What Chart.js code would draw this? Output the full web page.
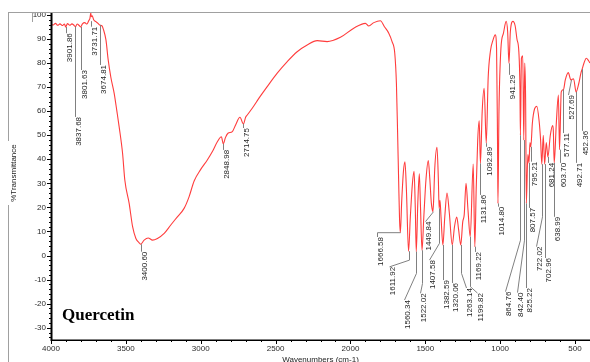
<!DOCTYPE html>
<html><head><meta charset="utf-8">
<script src="https://cdn.jsdelivr.net/npm/chart.js@4.4.1/dist/chart.umd.min.js"></script>
<style>html,body{margin:0;padding:0;background:#fff;overflow:hidden}canvas{display:block}</style>
</head><body><canvas id="c" width="590" height="362"></canvas>
<script>
// ---- spectrum data (wavenumber cm-1, %T) ----
const wavenumbers = [4000,3985,3970,3955,3940,3925,3910,3901.86,3890,3875,3860,3848,3837.68,3825,3812,3801.63,3790,3775,3760,3748,3740,3734,3731.71,3725,3715,3700,3688,3674.81,3660,3650,3633,3618,3600,3578,3560,3545,3522,3507,3478,3455,3433,3411,3400.6,3378,3351,3322,3289,3244,3200,3156,3111,3078,3044,3000,2956,2922,2889,2862,2848.98,2835,2818,2789,2767,2738,2714.75,2700,2689,2656,2611,2556,2489,2422,2356,2289,2222,2156,2067,1978,1900,1878,1844,1800,1773,1744,1722,1704,1693,1685,1678,1672,1666.58,1658,1646,1636,1626,1611.92,1600,1586,1575,1567,1560.34,1550,1540,1532,1522.02,1510,1495,1480,1470,1460,1455,1449.84,1445,1437,1422,1413,1407.58,1402,1395,1382.59,1370,1355,1340,1320.06,1305,1290,1278,1263.14,1250,1240,1228,1215,1199.82,1180,1169.22,1160,1150,1140,1131.86,1120,1107,1092.89,1080,1065,1048,1033,1024,1018,1014.8,1008,995,978,960,950,941.29,932,915,900,888,875,868,864.76,858,849,842.4,836,830,825.22,815,807.57,801,795.21,785,770,755,740,730,722.02,712,702.96,692,681.24,665,650,645,638.99,625,611,603.7,592,577.11,565,545,527.69,510,492.71,475,460,452.36,440,425,410,400];
const transmittance = [96.2,95.8,96.5,95.7,96.3,95.6,96.2,95.0,96.4,95.7,96.3,95.8,95.1,96.2,95.6,95.0,96.3,96.8,96.2,97.6,98.6,100.8,99.3,99.6,98.0,97.2,96.6,95.8,95.5,94,89.6,81.3,74,67.4,60,53.6,42.5,31.4,21.7,12.0,7.1,5.3,4.7,6.4,7.3,6.4,7.1,9.2,12.7,16.1,19.6,24.4,31,35.8,39.7,43.2,47.3,49.4,46.4,49,50.8,51.5,54.3,57.5,54.7,57.5,58.4,61.2,65.4,70.2,75.8,80.6,84.7,87.5,89.3,88.9,90.7,94.5,96.5,95.4,96.8,97.6,95.1,92.4,88.9,84.1,71.6,50.9,31,15,9.5,22,35,39,27,1.8,16,30,35,20,1.6,22,34,20,2.2,16,32,39.5,32,22,19.5,18.2,22,36,45,32,19.6,23,16,4.4,16,26,18,4.4,12,16,11,4.4,14,17,30,19,7.8,38,3.7,28,48,56,38.3,60,69.5,46.7,74,85,89.5,91.7,86,50,21.7,60,86,92.4,97.3,93,79.9,93,97.3,95.5,90,84.5,70,50,82,83,48,80,65,21.7,42,38.5,47,45.2,55,61,62,56,48,38,50,38,47,41,50,54,52,38.5,55,66.7,44,68,69,73,76,73,73.5,68,71.5,76,77.5,80,82,81,80];

// ---- axis ticks ----
const xTickValues = [4000,3500,3000,2500,2000,1500,1000,500];
const yTickValues = [100,90,80,70,60,50,40,30,20,10,0,-10,-20,-30];

// ---- peak labels and %T at each marked minimum ----
const peakLabels = ['3901.86','3837.68','3801.63','3731.71','3674.81','3400.60','2848.98','2714.75','1666.58','1611.92','1560.34','1522.02','1449.84','1407.58','1382.59','1320.06','1263.14','1199.82','1169.22','1131.86','1092.89','1014.80','941.29','864.76','842.40','825.22','807.57','795.21','722.02','702.96','681.24','638.99','603.70','577.11','527.69','492.71','452.36'];
const peakDepth = [95.0,95.1,95.0,97.4,95.8,4.7,46.4,54.7,9.5,1.8,1.6,2.2,18.2,19.6,4.4,4.4,4.4,7.8,3.7,38.3,46.7,21.7,79.9,50,48,21.7,38.5,45.2,38,38,41,38.5,44,69,73,68,77.5];

// ---- leader line layout (in axis units): bend points, last = label anchor ----
const leaderLayout = [
  [[3901.86,92.4]],[[3837.68,57.6]],[[3801.63,77.1]],[[3731.71,95.1]],[[3674.81,79.2]],
  [[3400.60,1.6]],[[2848.98,43.9]],[[2714.75,53]],
  [[1820,9.5],[1820,7.7]],
  [[1611.92,-1.9],[1745,-4.7]],
  [[1560.34,-7.4],[1641,-18.5]],
  [[1522.02,-11.6],[1535,-15.7]],
  [[1501,14.1]],
  [[1407.58,5.1],[1475,-1.9]],
  [[1382.59,-10.2]],
  [[1320.06,-11.4]],
  [[1263.14,-7.4],[1225,-13.5]],
  [[1199.82,-13],[1152,-15.6]],
  [[1169.22,1.5]],
  [[1131.86,25.2]],
  [[1092.89,45.2]],
  [[1014.80,20.3]],
  [[941.29,75.1]],
  [[864.76,6.4],[966,-15]],
  [[842.40,6.4],[885,-15.4]],
  [[825.22,-13.5]],
  [[807.57,19.8]],
  [[795.21,39]],
  [[722.02,16.1],[759,3.7]],
  [[702.96,-1]],
  [[681.24,38.5]],
  [[638.99,16.1]],
  [[603.70,38.5]],
  [[577.11,50.9]],
  [[545,66.7]],
  [[492.71,38.5]],
  [[452.36,51.8]]
];

const FONT = '"Liberation Sans", Arial, sans-serif';

const overlay = {
  id: 'overlay',
  afterDatasetsDraw(chart) {
    const {ctx, scales: {x, y}} = chart;
    ctx.save();
    ctx.strokeStyle = '#808080';
    ctx.lineWidth = 1;
    ctx.fillStyle = '#1e1e1e';
    ctx.font = '8px ' + FONT;
    peakLabels.forEach((lab, i) => {
      const wn = parseFloat(lab);
      const pts = [[wn, peakDepth[i]], ...leaderLayout[i]];
      ctx.beginPath();
      pts.forEach((p, j) => {
        const px = Math.round(x.getPixelForValue(p[0])) + 0.5;
        const py = y.getPixelForValue(p[1]);
        if (j) ctx.lineTo(px, py); else ctx.moveTo(px, py);
      });
      ctx.stroke();
      const end = pts[pts.length - 1];
      ctx.save();
      ctx.translate(Math.round(x.getPixelForValue(end[0])), y.getPixelForValue(end[1]));
      ctx.rotate(-Math.PI / 2);
      ctx.textAlign = 'right';
      ctx.textBaseline = 'top';
      ctx.fillText(lab, 0, 0);
      ctx.restore();
    });
    ctx.restore();
  },
  afterDraw(chart) {
    const {ctx, chartArea: a, scales: {x, y}} = chart;
    ctx.save();
    // outer gray frame
    ctx.strokeStyle = '#a0a0a0';
    ctx.lineWidth = 1;
    ctx.beginPath();
    ctx.moveTo(8, 12.5); ctx.lineTo(590, 12.5);
    ctx.moveTo(8.5, 12); ctx.lineTo(8.5, 141);
    ctx.moveTo(8.5, 205); ctx.lineTo(8.5, 362);
    ctx.moveTo(32.5, 13); ctx.lineTo(32.5, 22);
    ctx.stroke();
    // axes
    ctx.strokeStyle = '#000';
    ctx.lineWidth = 2;
    ctx.beginPath();
    ctx.moveTo(a.left + 0.5, a.top); ctx.lineTo(a.left + 0.5, a.bottom + 1);
    ctx.stroke();
    ctx.lineWidth = 1.5;
    ctx.beginPath();
    ctx.moveTo(a.left, a.bottom + 0.25); ctx.lineTo(a.right, a.bottom + 0.25);
    ctx.stroke();
    // ticks
    ctx.lineWidth = 1;
    ctx.beginPath();
    for (let v = -34; v <= 100; v += 2) {
      const py = Math.round(y.getPixelForValue(v)) + 0.5;
      const len = (v % 10 === 0) ? 4 : 2;
      ctx.moveTo(a.left - len, py); ctx.lineTo(a.left, py);
    }
    for (let w = 500; w <= 4000; w += 100) {
      const px = Math.round(x.getPixelForValue(w)) + 0.5;
      const len = (w % 500 === 0) ? 4 : 2;
      ctx.moveTo(px, a.bottom); ctx.lineTo(px, a.bottom + len);
    }
    ctx.stroke();
    // axis titles
    ctx.fillStyle = '#222';
    ctx.font = '8px ' + FONT;
    ctx.save();
    ctx.translate(14, 173);
    ctx.rotate(-Math.PI / 2);
    ctx.textAlign = 'center'; ctx.textBaseline = 'middle';
    ctx.fillText('%Transmittance', 0, 0);
    ctx.restore();
    ctx.textAlign = 'center'; ctx.textBaseline = 'top';
    ctx.fillText('Wavenumbers (cm-1)', (a.left + a.right) / 2, 356);
    // sample name
    ctx.fillStyle = '#000';
    ctx.font = 'bold 17px "Liberation Serif", "Times New Roman", serif';
    ctx.textAlign = 'left'; ctx.textBaseline = 'alphabetic';
    ctx.fillText('Quercetin', 62, 320);
    ctx.restore();
  }
};

new Chart(document.getElementById('c'), {
  type: 'scatter',
  data: {
    datasets: [{
      data: wavenumbers.map((w, i) => ({x: w, y: transmittance[i]})),
      showLine: true,
      borderColor: '#ff3c3c',
      borderWidth: 1.1,
      pointRadius: 0,
      cubicInterpolationMode: 'monotone'
    }]
  },
  options: {
    responsive: false,
    devicePixelRatio: 1,
    animation: false,
    layout: {padding: {top: 13, left: 0, right: 0, bottom: 0}},
    plugins: {legend: {display: false}, tooltip: {enabled: false}},
    scales: {
      x: {
        type: 'linear', reverse: true, min: 400, max: 4000,
        afterBuildTicks: s => { s.ticks = xTickValues.map(v => ({value: v})); },
        afterFit: s => { s.height = 22; },
        grid: {display: false, drawTicks: false},
        border: {display: false},
        ticks: {color: '#2b2b2b', font: {size: 8, family: FONT}, padding: 4, maxRotation: 0, autoSkip: false,
                callback: v => String(v)}
      },
      y: {
        type: 'linear', min: -35.1, max: 100.8,
        afterBuildTicks: s => { s.ticks = yTickValues.map(v => ({value: v})); },
        afterFit: s => { s.width = 51; },
        grid: {display: false, drawTicks: false},
        border: {display: false},
        ticks: {color: '#2b2b2b', font: {size: 8, family: FONT}, padding: 5, autoSkip: false,
                callback: v => String(v)}
      }
    }
  },
  plugins: [overlay]
});
</script>
</body></html>
